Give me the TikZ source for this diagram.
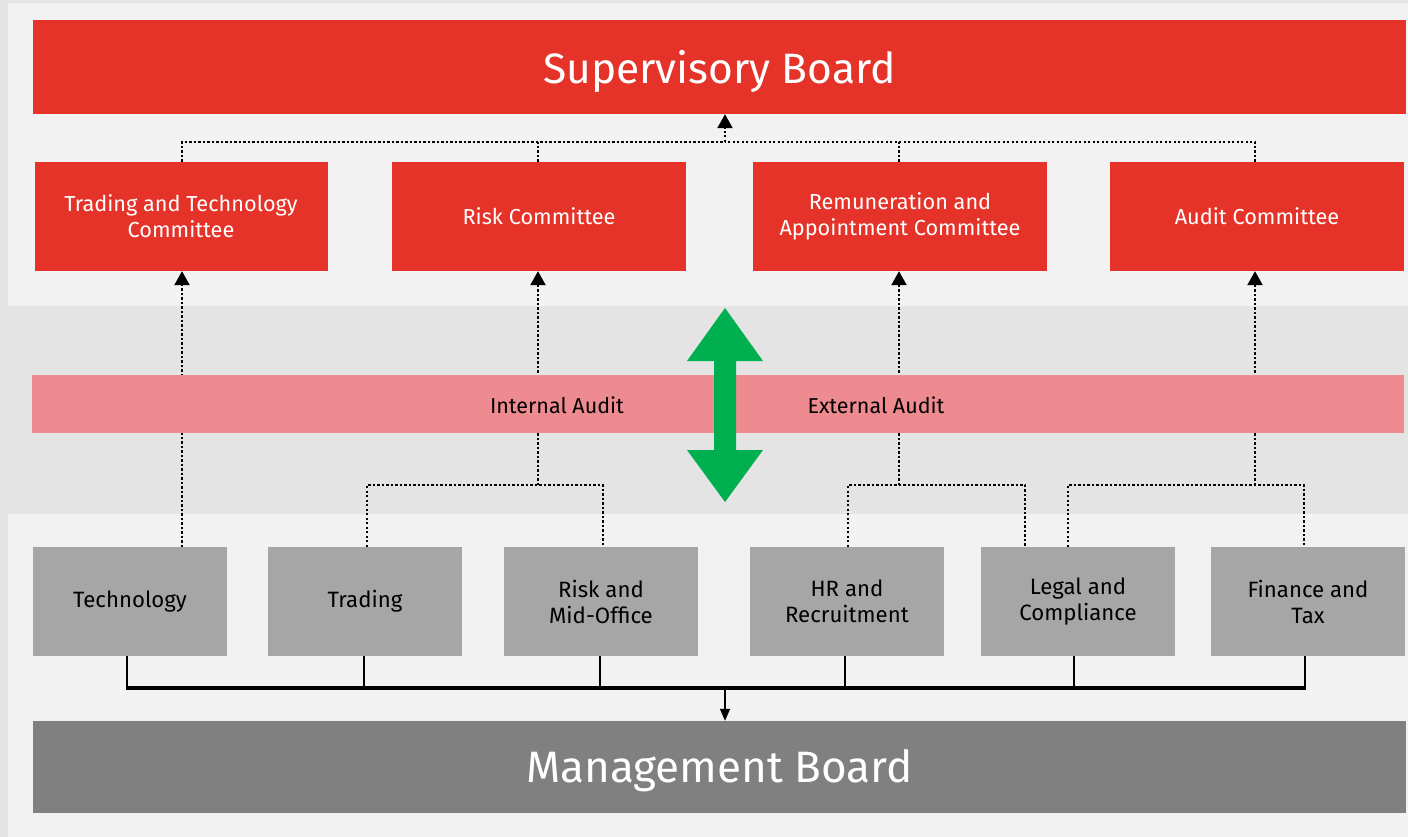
\documentclass[tikz,border=0pt]{standalone}
\usepackage{fontspec}
\setmainfont{Fira Sans}
\usetikzlibrary{arrows.meta}
\definecolor{bgout}{HTML}{E4E4E4}
\definecolor{panel}{HTML}{F2F2F2}
\definecolor{sbred}{HTML}{E5332A}
\definecolor{unitgray}{HTML}{A6A6A6}
\definecolor{mbgray}{HTML}{808080}
\definecolor{auditpink}{HTML}{EE8B90}
\definecolor{arrowgreen}{HTML}{00B050}
\begin{document}
\begin{tikzpicture}[x=1pt,y=-1pt,
  redbox/.style={fill=sbred,text=white,align=center,inner sep=0pt,
    minimum height=109pt,font=\fontsize{21.7}{26}\selectfont},
  unitbox/.style={fill=unitgray,text=black,align=center,inner sep=0pt,
    minimum width=194pt,minimum height=109pt,font=\fontsize{22.2}{26}\selectfont},
  dotline/.style={line width=2.3pt,dash pattern=on 2.3pt off 2.2pt},
  dotarrow/.style={dotline,-{Triangle[width=15pt,length=14pt]}},
  feed/.style={line width=1.5pt},
]
\fill[bgout] (0,0) rectangle (1408,837);
\useasboundingbox (0,0) rectangle (1408,837);
\fill[panel] (8,3) rectangle (1408,306);
\fill[panel] (8,514) rectangle (1408,837);

% boards
\node[fill=sbred,text=white,inner sep=0pt,minimum width=1373pt,minimum height=94pt] (sb) at (719.5,67) {};
\node[text=white,font=\fontsize{42.5}{48}\selectfont] (sbt) at ([yshift=-4pt]sb.center) {Supervisory Board};
\node[fill=mbgray,text=white,inner sep=0pt,minimum width=1373pt,minimum height=92pt] (mb) at (719.5,767) {};
\node[text=white,font=\fontsize{44}{50}\selectfont] (mbt) at ([yshift=-4pt]mb.center) {Management Board};

% committees
\node[redbox,minimum width=293pt] (tt) at (181,216.5) {Trading and Technology\\Committee};
\node[redbox,minimum width=294pt] (risk) at (539,216.5) {Risk Committee};
\node[redbox,minimum width=294pt] (rem) at (900,216.5) {Remuneration and\\Appointment Committee};
\node[redbox,minimum width=294pt] (audit) at (1257,216.5) {Audit Committee};

% units
\node[unitbox] (tech) at (130,601.5) {Technology};
\node[unitbox] (trading) at (365,601.5) {Trading};
\node[unitbox] (riskmid) at (601,601.5) {Risk and\\Mid-Office};
\node[unitbox] (hr) at (847,601.5) {HR and\\Recruitment};
\node[unitbox] (legal) at (1078,601.5) {Legal and\\Compliance};
\node[unitbox] (fin) at (1308,601.5) {Finance and\\Tax};

% upper dotted tree
\coordinate (hub) at (725,142);
\draw[dotline] ([xshift=1pt]tt.north) |- (hub);
\draw[dotline] ([xshift=-2pt]audit.north) |- (hub);
\draw[dotline] ([xshift=-1pt]risk.north) -- ([xshift=-1pt]risk.north |- hub);
\draw[dotline] ([xshift=-1pt]rem.north) -- ([xshift=-1pt]rem.north |- hub);
\draw[dotarrow] (hub) -- (hub |- sb.south);

% lower dotted trees
\coordinate (t1) at (182,547);
\draw[dotarrow] (t1) -- (t1 |- tt.south);
\coordinate (j1) at (538,485);
\coordinate (j2) at (899,485);
\coordinate (j3) at (1255,485);
\draw[dotline] ([xshift=2pt]trading.north) |- (j1) -| ([xshift=2pt]riskmid.north);
\draw[dotarrow] (j1) -- (j1 |- risk.south);
\draw[dotline] ([xshift=1pt]hr.north) |- (j2) -| ([xshift=-53pt]legal.north);
\draw[dotarrow] (j2) -- (j2 |- rem.south);
\draw[dotline] ([xshift=-10pt]legal.north) |- (j3) -| ([xshift=-4pt]fin.north);
\draw[dotarrow] (j3) -- (j3 |- audit.south);

% audit band
\fill[auditpink] (32,375) rectangle (1404,433);
\node[font=\fontsize{21.5}{24}\selectfont] (ia) at (557,405) {Internal Audit};
\node[font=\fontsize{21.5}{24}\selectfont] (ea) at (876,405) {External Audit};

% green double arrow
\fill[arrowgreen] (725,308) -- (763,361) -- (736,361) -- (736,450) -- (763,450)
  -- (725,502) -- (687,450) -- (714,450) -- (714,361) -- (687,361) -- cycle;

% reporting lines to management board
\coordinate (bus) at (725,688);
\foreach \n/\dx in {tech/-3,trading/-1,riskmid/-1,hr/-2,legal/-4,fin/-3}
  \draw[feed] ([xshift=\dx pt]\n.south) -- ([xshift=\dx pt]\n.south |- bus);
\draw[line width=3.4pt] ([xshift=-4pt]tech.south |- bus) -- ([xshift=-2pt]fin.south |- bus);
\draw[feed,-{Triangle[width=10pt,length=12pt]}] (bus) -- (bus |- mb.north);
\end{tikzpicture}
\end{document}
